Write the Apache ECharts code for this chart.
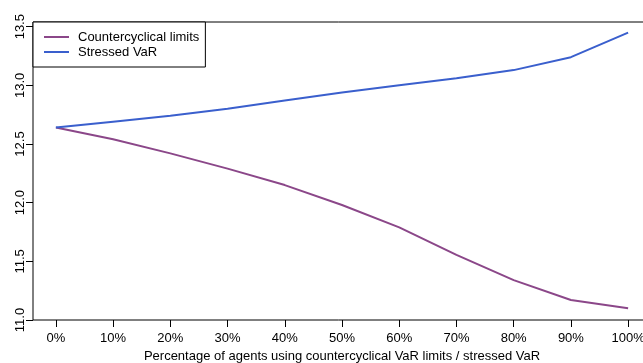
<!DOCTYPE html>
<html>
<head>
<meta charset="utf-8">
<script src="https://cdn.jsdelivr.net/npm/echarts@6/dist/echarts.min.js"></script>
<style>
html,body{margin:0;padding:0;background:#fff;}
#chart{width:643px;height:363px;}
</style>
</head>
<body>
<div id="chart"></div>
<script>
const xPercent = [0, 10, 20, 30, 40, 50, 60, 70, 80, 90, 100];
const countercyclical = [12.64, 12.54, 12.42, 12.29, 12.15, 11.98, 11.79, 11.555, 11.34, 11.17, 11.10];
const stressedVaR = [12.64, 12.69, 12.74, 12.80, 12.87, 12.94, 13.00, 13.06, 13.13, 13.24, 13.45];
const xTicks = [0, 10, 20, 30, 40, 50, 60, 70, 80, 90, 100];
const yTicks = [11.0, 11.5, 12.0, 12.5, 13.0, 13.5];
const seriesNames = ['Countercyclical limits', 'Stressed VaR'];
const xTitle = 'Percentage of agents using countercyclical VaR limits / stressed VaR';

const font = 'Liberation Sans, Arial, sans-serif';
const chart = echarts.init(document.getElementById('chart'), null, {renderer: 'canvas'});
chart.setOption({
  animation: false,
  backgroundColor: '#fff',
  grid: {left: 33, top: 22, width: 618, height: 298, show: true, borderColor: '#000', borderWidth: 1,
         backgroundColor: 'transparent', containLabel: false, outerBoundsMode: 'none'},
  legend: {
    left: 33, top: 22, orient: 'vertical',
    data: seriesNames,
    icon: 'rect', itemWidth: 25, itemHeight: 2, itemGap: 1,
    padding: [8, 6, 8, 11],
    borderColor: '#000', borderWidth: 1, backgroundColor: '#fff',
    textStyle: {fontFamily: font, fontSize: 13, color: '#000', lineHeight: 14, padding: [0, 0, 0, 4]}
  },
  xAxis: {
    type: 'value', min: -4, max: 104, position: 'bottom',
    axisLine: {show: false, onZero: false},
    splitLine: {show: false},
    axisTick: {show: true, length: 7, inside: false, customValues: xTicks, lineStyle: {color: '#000'}},
    axisLabel: {customValues: xTicks, formatter: v => v + '%', fontFamily: font, fontSize: 13, color: '#000', margin: 12},
    name: xTitle, nameLocation: 'middle', nameGap: 25,
    nameTextStyle: {fontFamily: font, fontSize: 13, color: '#000'}
  },
  yAxis: {
    type: 'value', min: 11.0, max: 13.54, position: 'left',
    axisLine: {show: false, onZero: false},
    splitLine: {show: false},
    axisTick: {show: true, length: 7, inside: false, customValues: yTicks, lineStyle: {color: '#000'}},
    axisLabel: {customValues: yTicks, rotate: 90, formatter: v => v.toFixed(1), fontFamily: font, fontSize: 13, color: '#000', margin: 6}
  },
  series: [
    {name: seriesNames[0], type: 'line', data: xPercent.map((x, i) => [x, countercyclical[i]]),
     showSymbol: false, symbol: 'none', lineStyle: {color: '#8B4789', width: 2}, itemStyle: {color: '#8B4789'}},
    {name: seriesNames[1], type: 'line', data: xPercent.map((x, i) => [x, stressedVaR[i]]),
     showSymbol: false, symbol: 'none', lineStyle: {color: '#3A5FCD', width: 2}, itemStyle: {color: '#3A5FCD'}}
  ]
});
</script>
</body>
</html>
